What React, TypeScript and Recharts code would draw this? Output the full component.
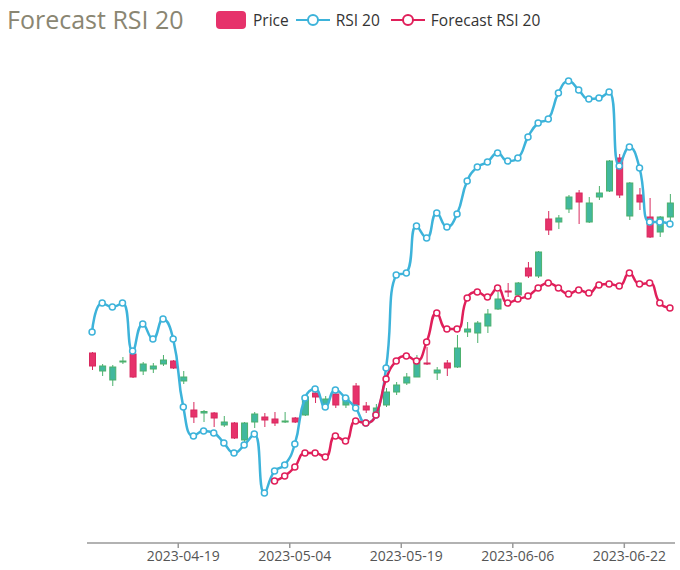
import React from 'react';
import { ComposedChart, Bar, Line, XAxis, YAxis } from 'recharts';

const dates = [
  '2023-04-05', '2023-04-06', '2023-04-10', '2023-04-11', '2023-04-12', '2023-04-13', '2023-04-14', '2023-04-17',
  '2023-04-18', '2023-04-19', '2023-04-20', '2023-04-21', '2023-04-24', '2023-04-25', '2023-04-26', '2023-04-27',
  '2023-04-28', '2023-05-01', '2023-05-02', '2023-05-03', '2023-05-04', '2023-05-05', '2023-05-08', '2023-05-09',
  '2023-05-10', '2023-05-11', '2023-05-12', '2023-05-15', '2023-05-16', '2023-05-17', '2023-05-18', '2023-05-19',
  '2023-05-22', '2023-05-23', '2023-05-24', '2023-05-25', '2023-05-26', '2023-05-30', '2023-05-31', '2023-06-01',
  '2023-06-02', '2023-06-05', '2023-06-06', '2023-06-07', '2023-06-08', '2023-06-09', '2023-06-12', '2023-06-13',
  '2023-06-14', '2023-06-15', '2023-06-16', '2023-06-20', '2023-06-21', '2023-06-22', '2023-06-23', '2023-06-26',
  '2023-06-27', '2023-06-28',
];

const openPrices = [
  159.0, 157.2, 156.3, 158.1, 158.9, 157.2, 157.4, 157.9, 158.2, 156.2, 153.3, 153.0, 153.0, 151.8, 152.0, 150.3,
  152.1, 152.6, 152.4, 152.1, 152.5, 152.8, 155.0, 153.9, 154.9, 153.8, 155.7, 153.7, 153.0, 153.8, 155.1, 156.0,
  156.6, 158.0, 157.0, 158.0, 157.6, 161.1, 161.0, 161.7, 163.4, 165.2, 164.8, 167.5, 166.7, 172.4, 172.1, 173.4,
  175.0, 172.1, 174.6, 175.2, 178.5, 172.7, 174.8, 172.6, 171.1, 172.6,
];
const closePrices = [
  157.7, 157.7, 157.6, 158.2, 156.6, 157.9, 157.7, 158.3, 157.5, 156.6, 152.6, 153.15, 152.5, 152.1, 150.5, 152.0,
  152.9, 152.3, 152.0, 152.2, 152.1, 154.6, 154.6, 154.4, 153.8, 154.5, 153.8, 153.3, 153.5, 155.1, 155.8, 156.6,
  158.4, 157.9, 157.3, 157.5, 159.5, 161.4, 162.0, 162.9, 164.4, 165.1, 166.0, 166.7, 169.1, 171.3, 172.5, 174.6,
  174.1, 174.0, 175.0, 178.2, 174.8, 176.0, 174.1, 170.6, 172.6, 174.0,
];
const highPrices = [
  159.1, 157.9, 157.8, 158.6, 159.0, 158.1, 158.0, 158.8, 158.3, 157.2, 154.1, 153.3, 153.1, 152.7, 152.1, 152.1,
  153.1, 153.0, 153.1, 153.1, 152.6, 154.7, 155.3, 154.7, 155.1, 154.8, 156.0, 154.1, 153.9, 155.5, 156.1, 157.0,
  158.8, 159.6, 157.6, 158.3, 160.8, 162.1, 162.2, 163.4, 165.1, 166.0, 166.1, 168.1, 169.2, 173.2, 172.8, 174.8,
  175.3, 174.6, 175.7, 178.3, 178.9, 176.1, 175.5, 174.5, 172.7, 174.9,
];
const lowPrices = [
  157.3, 156.7, 155.7, 157.9, 156.5, 156.8, 157.0, 157.7, 157.4, 155.9, 152.0, 152.1, 151.6, 151.6, 150.4, 150.0,
  151.5, 151.6, 151.7, 152.0, 152.0, 152.7, 154.0, 153.7, 153.5, 153.5, 153.7, 153.0, 152.6, 153.6, 154.8, 155.8,
  156.6, 157.8, 156.3, 156.7, 157.5, 160.6, 160.0, 161.0, 163.3, 164.6, 164.7, 166.5, 166.5, 170.8, 171.4, 173.0,
  171.9, 172.0, 174.3, 175.1, 174.5, 172.3, 173.3, 170.5, 170.6, 172.1,
];

const rsi20 = [
  41.1, 44.0, 43.6, 44.0, 39.2, 41.9, 40.4, 42.4, 40.4, 33.6, 30.7, 31.2, 31.0, 30.0, 29.0, 29.8,
  30.9, 25.0, 27.2, 27.8, 29.9, 34.5, 35.4, 33.6, 35.3, 34.5, 33.5, 32.0, 32.8, 37.5, 46.8, 47.0,
  51.7, 50.5, 53.0, 51.6, 52.9, 56.2, 57.6, 58.1, 59.0, 58.2, 58.5, 60.6, 62.0, 62.4, 65.0, 66.2,
  65.3, 64.4, 64.5, 65.1, 57.7, 59.6, 57.5, 52.1, 52.1, 51.9,
];

const forecastRsi20 = [
  null, null, null, null, null, null, null, null, null, null, null, null, null, null, null, null,
  null, null, 26.2, 26.7, 27.6, 29.0, 29.0, 28.6, 30.7, 30.2, 32.2, 32.0, 32.8, 36.4, 38.2, 38.7,
  38.2, 40.1, 43.0, 41.4, 41.4, 44.5, 45.1, 44.6, 45.5, 44.0, 44.4, 44.7, 45.5, 46.0, 45.5, 44.9,
  45.3, 45.0, 45.8, 45.9, 45.7, 47.0, 45.9, 46.0, 44.0, 43.5,
];

const tickLabels = ['2023-04-19', '2023-05-04', '2023-05-19', '2023-06-06', '2023-06-22'];

const data = dates.map((date, i) => ({
  date,
  open: openPrices[i],
  close: closePrices[i],
  high: highPrices[i],
  low: lowPrices[i],
  range: [lowPrices[i], highPrices[i]],
  rsi: rsi20[i],
  forecast: forecastRsi20[i],
}));

const FONT = '"Open Sans", "Noto Sans", sans-serif';
const UP_FILL = '#41b89e';
const UP_STROKE = '#4bb06c';
const DOWN_FILL = '#e6326b';
const DOWN_STROKE = '#d8295e';
const RSI_COLOR = '#3db3da';
const FC_COLOR = '#e01f5a';
const AXIS_COLOR = '#999999';
const TICK_SIZE = 5;
const TICK_MARGIN = 3;

// Bezier smoothing in the style of ECharts "smooth: true" (no overshoot past neighbours)
function smoothCurve(context: any) {
  let pts: number[][] = [];
  const draw = () => {
    const n = pts.length;
    if (!n) return;
    const smooth = 0.5;
    const mn = Math.min;
    const mx = Math.max;
    let prevX = 0, prevY = 0, cpx0 = 0, cpy0 = 0;
    for (let i = 0; i < n; i++) {
      const x = pts[i][0];
      const y = pts[i][1];
      if (i === 0) {
        context.moveTo(x, y);
        cpx0 = x;
        cpy0 = y;
      } else {
        let cpx1 = x, cpy1 = y, nextCpx0 = x, nextCpy0 = y;
        if (i < n - 1) {
          const nextX = pts[i + 1][0];
          const nextY = pts[i + 1][1];
          let vx = nextX - prevX;
          let vy = nextY - prevY;
          const dx0 = x - prevX, dy0 = y - prevY, dx1 = nextX - x, dy1 = nextY - y;
          const lenPrev = Math.sqrt(dx0 * dx0 + dy0 * dy0) || 1e-6;
          const lenNext = Math.sqrt(dx1 * dx1 + dy1 * dy1) || 1e-6;
          const ratio = lenNext / (lenNext + lenPrev);
          nextCpx0 = x + vx * smooth * ratio;
          nextCpy0 = y + vy * smooth * ratio;
          nextCpx0 = mx(mn(nextCpx0, mx(nextX, x)), mn(nextX, x));
          nextCpy0 = mx(mn(nextCpy0, mx(nextY, y)), mn(nextY, y));
          vx = nextCpx0 - x;
          vy = nextCpy0 - y;
          cpx1 = x - (vx * lenPrev) / lenNext;
          cpy1 = y - (vy * lenPrev) / lenNext;
          cpx1 = mx(mn(cpx1, mx(prevX, x)), mn(prevX, x));
          cpy1 = mx(mn(cpy1, mx(prevY, y)), mn(prevY, y));
          vx = x - cpx1;
          vy = y - cpy1;
          nextCpx0 = x + (vx * lenNext) / lenPrev;
          nextCpy0 = y + (vy * lenNext) / lenPrev;
        }
        context.bezierCurveTo(cpx0, cpy0, cpx1, cpy1, x, y);
        cpx0 = nextCpx0;
        cpy0 = nextCpy0;
      }
      prevX = x;
      prevY = y;
    }
  };
  return {
    areaStart() {},
    areaEnd() {},
    lineStart() {
      pts = [];
    },
    lineEnd() {
      draw();
      pts = [];
    },
    point(x: number, y: number) {
      pts.push([+x, +y]);
    },
  };
}

function Candle(props: any) {
  const { x, y, width, height, payload } = props;
  if (!payload || x == null) return null;
  const top = Math.min(y, y + height);
  const h = Math.abs(height);
  const { open, close, high, low } = payload;
  const span = high - low;
  const k = span > 0 ? h / span : 0;
  const yOf = (v: number) => top + (high - v) * k;
  const up = close >= open;
  const bTop = yOf(Math.max(open, close));
  const bBot = yOf(Math.min(open, close));
  const cx = x + width / 2;
  const fill = up ? UP_FILL : DOWN_FILL;
  const stroke = up ? UP_STROKE : DOWN_STROKE;
  return (
    <g>
      <line x1={cx} x2={cx} y1={top} y2={top + h} stroke={stroke} strokeWidth={1} />
      <rect
        x={x + 0.5}
        y={bTop}
        width={width - 1}
        height={Math.max(bBot - bTop, 1)}
        fill={fill}
        stroke={stroke}
        strokeWidth={1}
      />
    </g>
  );
}

function DateTick(props: any) {
  const { x, y, payload } = props;
  const off = payload && payload.offset ? payload.offset : 0;
  const axisY = y - TICK_SIZE - TICK_MARGIN;
  return (
    <g>
      <line x1={x - off} x2={x - off} y1={axisY} y2={axisY + TICK_SIZE} stroke={AXIS_COLOR} strokeWidth={1.5} />
      <text x={x} y={y} dy="0.71em" textAnchor="middle" fill="#555" fontSize={14} fontFamily={FONT}>
        {payload.value}
      </text>
    </g>
  );
}

function LineIcon({ color }: { color: string }) {
  return (
    <svg width={34} height={14} style={{ display: 'block' }}>
      <line x1={0} x2={34} y1={7} y2={7} stroke={color} strokeWidth={2} />
      <circle cx={17} cy={7} r={5} fill="#fff" stroke={color} strokeWidth={2} />
    </svg>
  );
}

export default function App() {
  return (
    <div style={{ position: 'relative', width: 680, height: 570, fontFamily: FONT, background: '#fff' }}>
      <style>{'body{margin:0}'}</style>
      <div style={{ position: 'absolute', left: 7, top: 3, fontSize: 25, color: '#8a8672', lineHeight: '32px' }}>
        Forecast RSI 20
      </div>
      <div
        style={{
          position: 'absolute',
          left: 216,
          top: 10,
          height: 20,
          display: 'flex',
          alignItems: 'center',
          fontSize: 15.5,
          color: '#333',
        }}
      >
        <span style={{ width: 30, height: 18, borderRadius: 4, background: DOWN_FILL, marginRight: 7, display: 'block' }} />
        <span style={{ marginRight: 7 }}>Price</span>
        <LineIcon color={RSI_COLOR} />
        <span style={{ marginLeft: 6, marginRight: 11 }}>RSI 20</span>
        <LineIcon color={FC_COLOR} />
        <span style={{ marginLeft: 6 }}>Forecast RSI 20</span>
      </div>
      <ComposedChart
        width={680}
        height={570}
        data={data}
        margin={{ top: 80, right: 5, bottom: 0, left: 87 }}
        barSize={7}
      >
        <XAxis
          dataKey="date"
          height={27}
          ticks={tickLabels}
          interval={0}
          tickSize={TICK_SIZE}
          tickMargin={TICK_MARGIN}
          tickLine={false}
          tick={<DateTick />}
          axisLine={{ stroke: AXIS_COLOR, strokeWidth: 1.5 }}
        />
        <YAxis
          yAxisId="price"
          type="number"
          domain={[140, 186.3]}
          width={0}
          tick={false}
          tickLine={false}
          axisLine={{ stroke: AXIS_COLOR, strokeWidth: 1.5, strokeDasharray: '0 9 2000' }}
        />
        <YAxis
          yAxisId="rsi"
          orientation="right"
          type="number"
          domain={[20, 66.3]}
          width={0}
          tick={false}
          tickLine={false}
          axisLine={{ stroke: AXIS_COLOR, strokeWidth: 1.5 }}
        />
        <Bar yAxisId="price" dataKey="range" name="Price" shape={<Candle />} isAnimationActive={false} />
        <Line
          yAxisId="rsi"
          dataKey="rsi"
          name="RSI 20"
          type={smoothCurve as any}
          stroke={RSI_COLOR}
          strokeWidth={2.5}
          dot={{ r: 3, fill: '#fff', stroke: RSI_COLOR, strokeWidth: 1.5 }}
          activeDot={false}
          isAnimationActive={false}
        />
        <Line
          yAxisId="rsi"
          dataKey="forecast"
          name="Forecast RSI 20"
          type={smoothCurve as any}
          stroke={FC_COLOR}
          strokeWidth={2.5}
          dot={{ r: 3, fill: '#fff', stroke: FC_COLOR, strokeWidth: 1.5 }}
          activeDot={false}
          connectNulls={false}
          isAnimationActive={false}
        />
      </ComposedChart>
    </div>
  );
}
